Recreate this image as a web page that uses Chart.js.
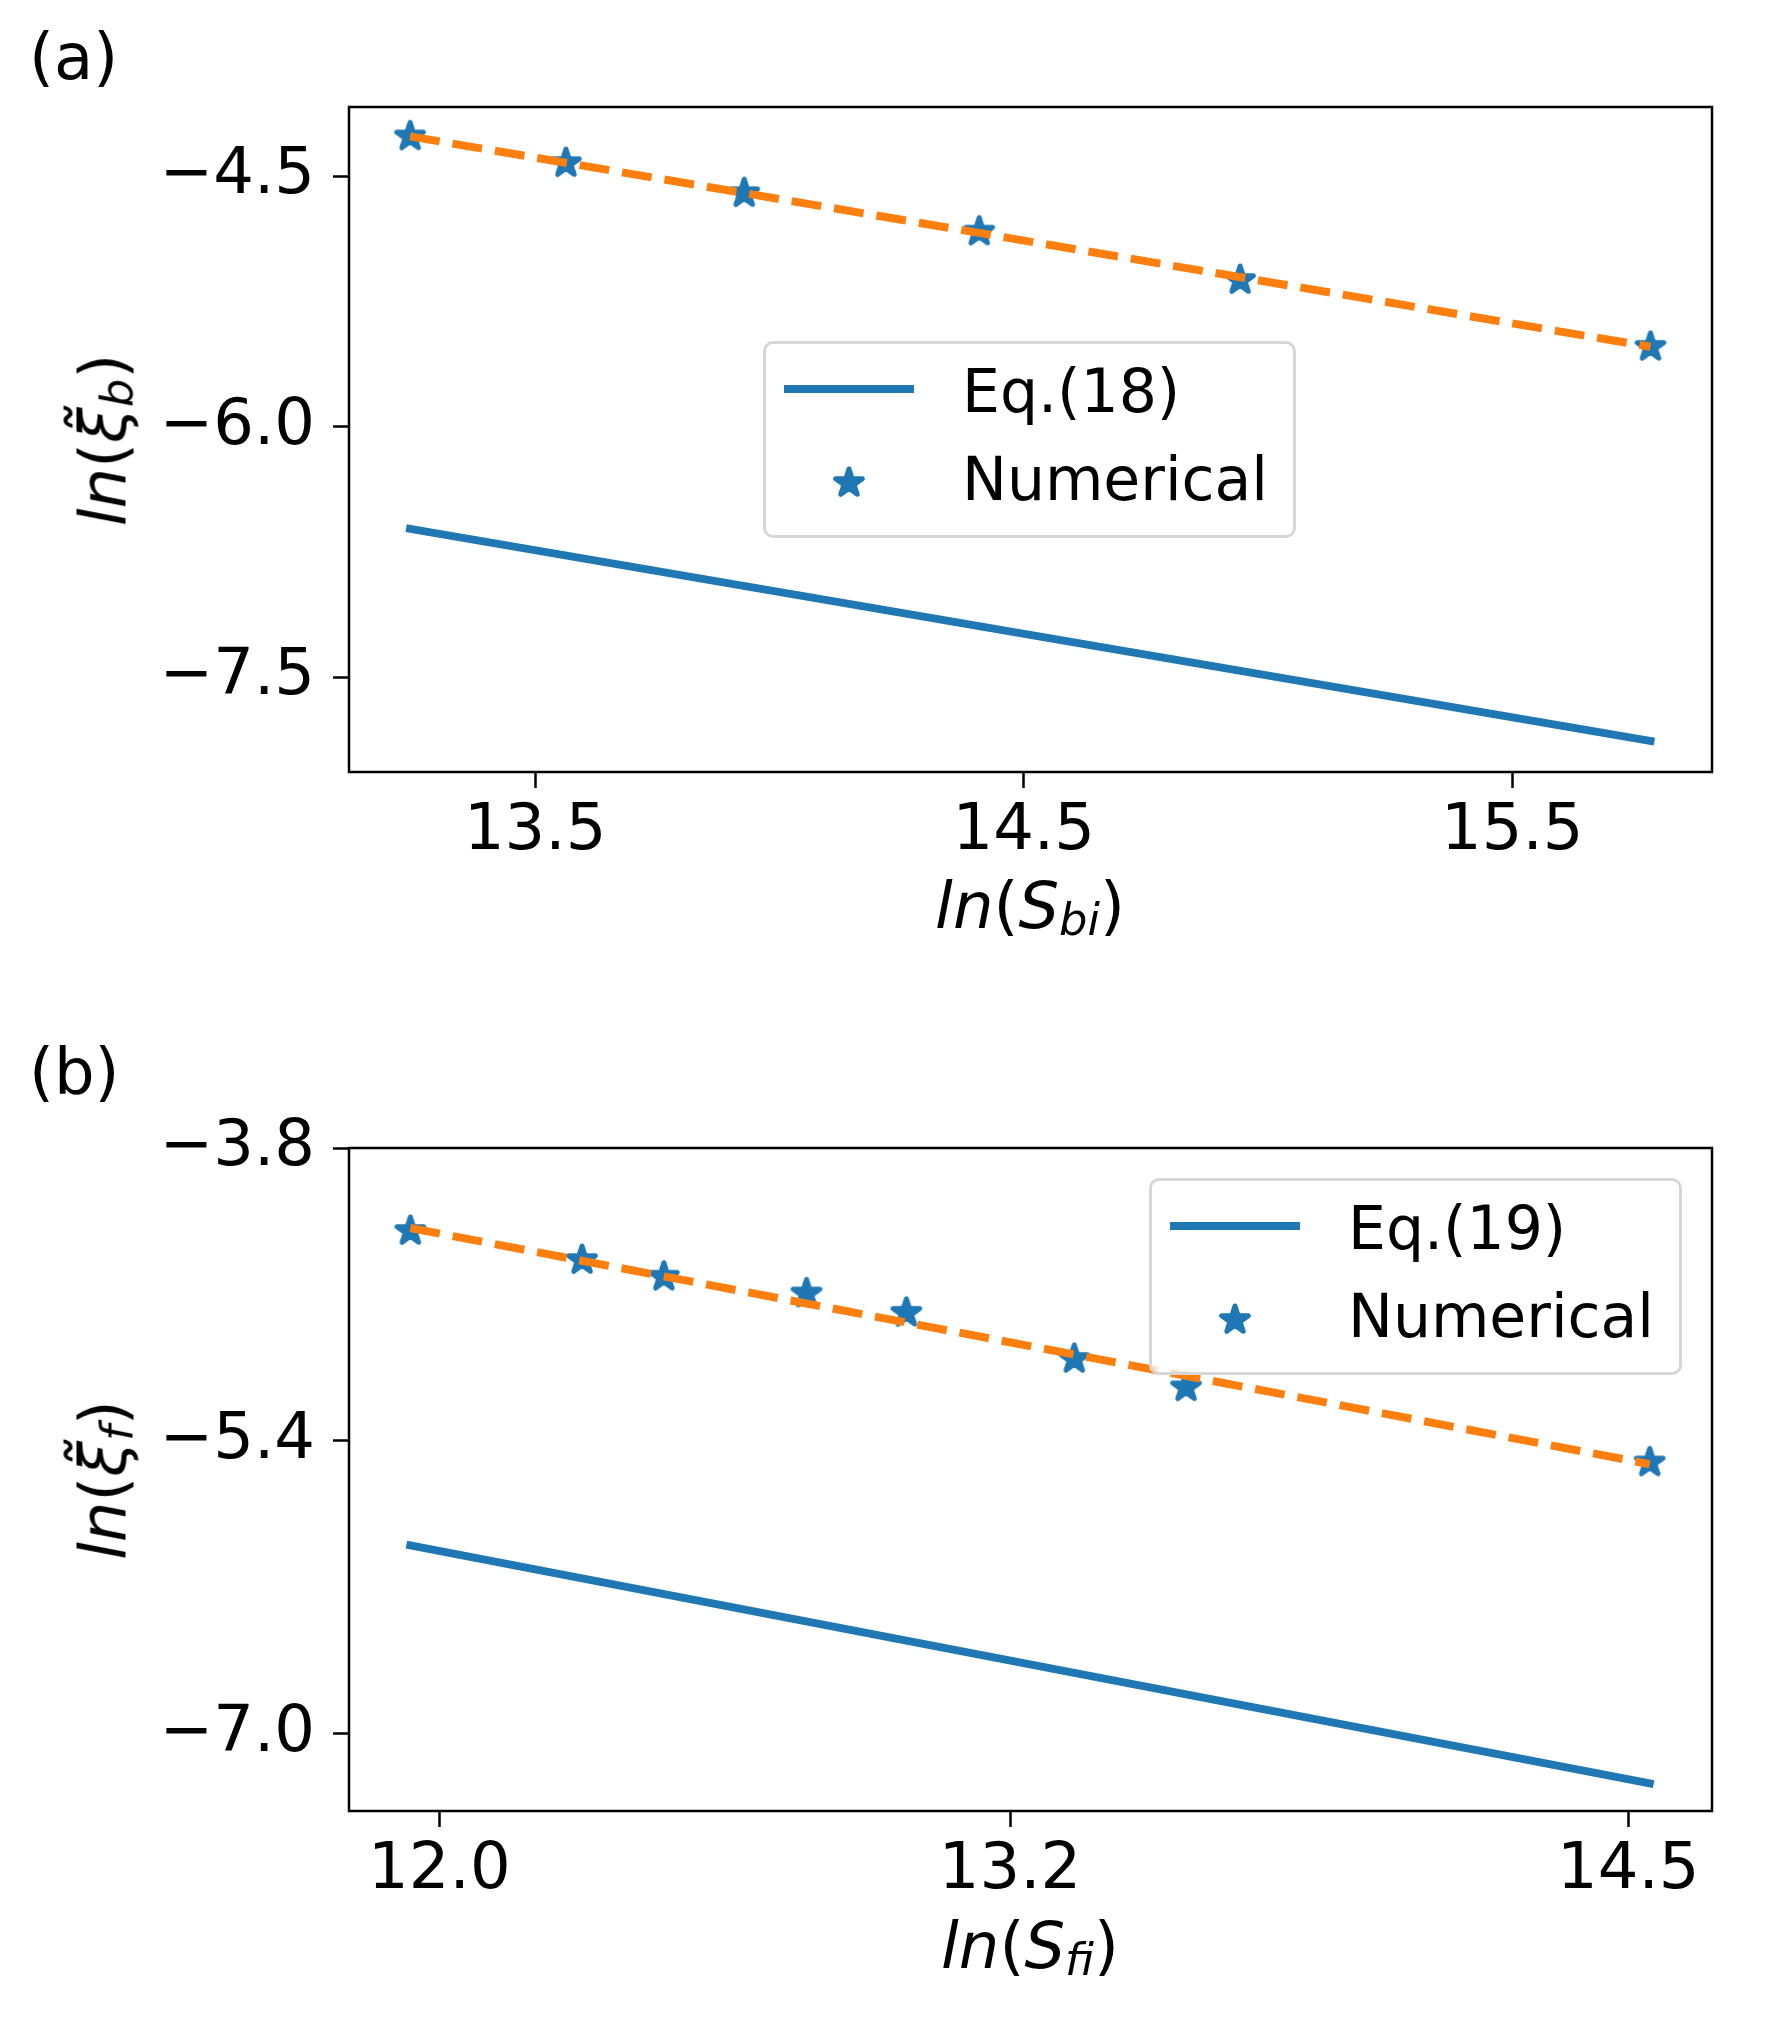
<!DOCTYPE html>
<html>
<head>
<meta charset="utf-8">
<script src="https://cdn.jsdelivr.net/npm/chart.js@4.4.1/dist/chart.umd.min.js"></script>
<style>
  html, body { margin: 0; padding: 0; background: #fff; }
  #page { position: relative; width: 1770px; height: 2041px; overflow: hidden;
          font-family: 'DejaVu Sans', sans-serif; color: #000; }
  canvas.plot { position: absolute; left: 0; }
  .txt { position: absolute; font-size: 64px; line-height: 64px; white-space: nowrap; }
  .math i { font-style: italic; }
  .math .sub { font-size: 70%; font-style: italic; position: relative; top: 0.15em; }
  .ylab { transform: translate(-50%, -50%) rotate(-90deg); }
  .xlab { transform: translateX(-50%); }
  .legend { position: absolute; box-sizing: border-box; width: 533px; height: 197px;
            border: 3px solid #d6d6d6; border-radius: 10px; background: rgba(255,255,255,0.8); }
  .legend .line { position: absolute; left: 18px; top: 41px; width: 130px; height: 8px; background: #1f77b4; }
  .legend canvas { position: absolute; left: 63px; top: 119px; }
  .legend .txt { font-size: 60px; line-height: 60px; }
  .legend .t1 { left: 196px; top: 17px; }
  .legend .t2 { left: 196px; top: 105px; }
</style>
</head>
<body>
<div id="page">
  <canvas id="chartA" class="plot" width="1770" height="1020" style="top:0;"></canvas>
  <canvas id="chartB" class="plot" width="1770" height="1021" style="top:1020px;"></canvas>

  <div class="txt" style="left:29px; top:25px;">(a)</div>
  <div class="txt" style="left:29px; top:1040px;">(b)</div>

  <div class="txt math ylab" style="left:107px; top:440px;"><i>ln</i>(<i>ξ̃</i><span class="sub">b</span>)</div>
  <div class="txt math xlab" style="left:1030px; top:874px;"><i>ln</i>(<i>S</i><span class="sub">bi</span>)</div>
  <div class="txt math ylab" style="left:107px; top:1480px;"><i>ln</i>(<i>ξ̃</i><span class="sub">f</span>)</div>
  <div class="txt math xlab" style="left:1030px; top:1914px;"><i>ln</i>(<i>S</i><span class="sub">fi</span>)</div>

  <div class="legend" style="left:763px; top:341px;">
    <div class="line"></div>
    <canvas class="legstar" width="40" height="40"></canvas>
    <div class="txt t1">Eq.(18)</div>
    <div class="txt t2">Numerical</div>
  </div>
  <div class="legend" style="left:1149px; top:1178px;">
    <div class="line"></div>
    <canvas class="legstar" width="40" height="40"></canvas>
    <div class="txt t1">Eq.(19)</div>
    <div class="txt t2">Numerical</div>
  </div>
</div>

<script>
// panel (a): ln(S_bi) vs ln(xi_b)
const lnSbi = [13.244, 13.563, 13.928, 14.409, 14.943, 15.783];
const numA  = [-4.26, -4.42, -4.60, -4.83, -5.12, -5.52];
const eq18X = [13.244, 15.783];
const eq18Y = [-6.61, -7.88];
const fitAX = [13.244, 15.783];
const fitAY = [-4.26, -5.52];
const xTicksA = [13.5, 14.5, 15.5];
const yTicksA = [-4.5, -6.0, -7.5];

// panel (b): ln(S_fi) vs ln(xi_f)
const lnSfi = [11.939, 12.300, 12.472, 12.772, 12.982, 13.335, 13.570, 14.545];
const numB  = [-4.253, -4.412, -4.503, -4.594, -4.700, -4.952, -5.107, -5.517];
const eq19X = [11.939, 14.545];
const eq19Y = [-5.97, -7.27];
const fitBX = [11.939, 14.545];
const fitBY = [-4.237, -5.527];
const xTicksB = [12.0, 13.2, 14.5];
const yTicksB = [-3.8, -5.4, -7.0];

const BLUE = '#1f77b4';
const ORANGE = '#ff7f0e';

function zip(xs, ys) {
  return xs.map((x, i) => ({ x: x, y: ys[i] }));
}

// matplotlib-like filled '*' marker
function drawStar(c, R) {
  const g = c.getContext('2d');
  const cx = c.width / 2, cy = c.height / 2;
  g.beginPath();
  for (let k = 0; k < 10; k++) {
    const a = -Math.PI / 2 + k * Math.PI / 5;
    const r = k % 2 === 0 ? R : R * 0.381966;
    const px = cx + r * Math.cos(a), py = cy + r * Math.sin(a);
    if (k === 0) g.moveTo(px, py); else g.lineTo(px, py);
  }
  g.closePath();
  g.fillStyle = BLUE;
  g.strokeStyle = BLUE;
  g.lineWidth = 5;
  g.lineJoin = 'round';
  g.fill();
  g.stroke();
  return c;
}

const starCanvas = document.createElement('canvas');
starCanvas.width = 40;
starCanvas.height = 40;
drawStar(starCanvas, 14);
document.querySelectorAll('.legstar').forEach(c => drawStar(c, 14));

function fmt(v) {
  return (v < 0 ? '\u2212' : '') + Math.abs(v).toFixed(1);
}

// box around the plot area (all four spines)
const frame = {
  id: 'frame',
  afterDraw(chart) {
    const a = chart.chartArea, ctx = chart.ctx;
    ctx.save();
    ctx.strokeStyle = '#000';
    ctx.lineWidth = 2.5;
    ctx.strokeRect(a.left, a.top, a.right - a.left, a.bottom - a.top);
    ctx.restore();
  }
};

Chart.defaults.font.family = "'DejaVu Sans', sans-serif";
Chart.defaults.color = '#000';

function makeChart(id, p) {
  return new Chart(document.getElementById(id), {
    type: 'scatter',
    data: {
      datasets: [
        {
          data: zip(p.fitX, p.fitY), showLine: true, order: 0,
          borderColor: ORANGE, borderWidth: 8, borderDash: [30, 13],
          borderCapStyle: 'butt', pointRadius: 0
        },
        {
          data: zip(p.xs, p.ys), showLine: false, order: 1,
          pointStyle: starCanvas, pointRadius: 15
        },
        {
          data: zip(p.eqX, p.eqY), showLine: true, order: 2,
          borderColor: BLUE, borderWidth: 8, borderCapStyle: 'square', pointRadius: 0
        }
      ]
    },
    options: {
      responsive: false,
      animation: false,
      devicePixelRatio: 1,
      layout: { padding: { left: 0, right: 58, top: p.top, bottom: 0 } },
      plugins: { legend: { display: false }, tooltip: { enabled: false } },
      scales: {
        x: {
          type: 'linear', min: p.xMin, max: p.xMax,
          afterBuildTicks: s => { s.ticks = p.xTicks.map(v => ({ value: v })); },
          afterFit: s => { s.height = p.xAxisH; },
          border: { display: false },
          grid: { drawOnChartArea: false, drawTicks: true, tickLength: 16, tickWidth: 2.5, tickColor: '#000' },
          ticks: { autoSkip: false, maxRotation: 0, padding: 6, font: { size: 64 }, callback: v => fmt(v) }
        },
        y: {
          type: 'linear', min: p.yMin, max: p.yMax,
          afterBuildTicks: s => { s.ticks = p.yTicks.map(v => ({ value: v })); },
          afterFit: s => { s.width = 349; },
          border: { display: false },
          grid: { drawOnChartArea: false, drawTicks: true, tickLength: 16, tickWidth: 2.5, tickColor: '#000' },
          ticks: { autoSkip: false, padding: 18, font: { size: 64 }, callback: v => fmt(v) }
        }
      }
    },
    plugins: [frame]
  });
}

makeChart('chartA', {
  xs: lnSbi, ys: numA, eqX: eq18X, eqY: eq18Y, fitX: fitAX, fitY: fitAY,
  xTicks: xTicksA, yTicks: yTicksA,
  xMin: 13.119, xMax: 15.909, yMin: -8.066, yMax: -4.084,
  top: 107, xAxisH: 248
});

makeChart('chartB', {
  xs: lnSfi, ys: numB, eqX: eq19X, eqY: eq19Y, fitX: fitBX, fitY: fitBY,
  xTicks: xTicksB, yTicks: yTicksB,
  xMin: 11.81, xMax: 14.676, yMin: -7.421, yMax: -3.8,
  top: 128, xAxisH: 230
});
</script>
</body>
</html>
